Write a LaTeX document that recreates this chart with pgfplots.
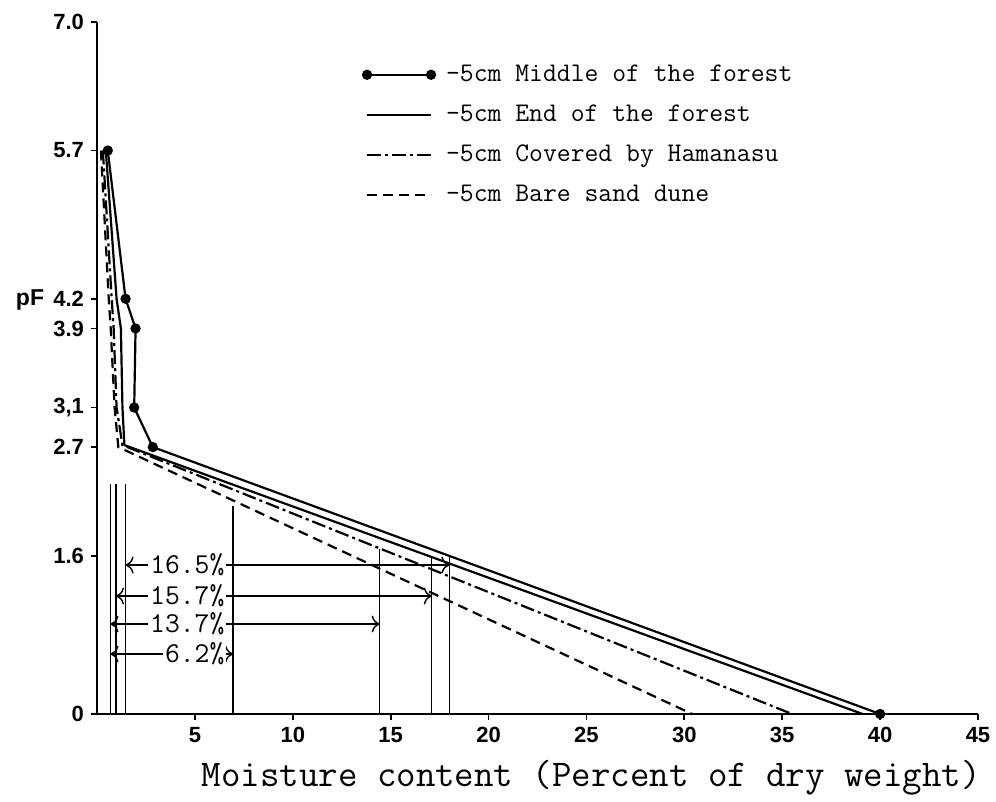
\documentclass[border=0pt]{standalone}
\usepackage{fontspec}
\setsansfont{Liberation Sans}
\usepackage{pgfplots}
\pgfplotsset{compat=1.18}
\usetikzlibrary{arrows.meta}

\begin{document}
\begin{tikzpicture}
\begin{axis}[
  scale only axis, width=440.5pt, height=346pt,
  xmin=0, xmax=45, ymin=0, ymax=7,
  axis x line*=bottom, axis y line*=left,
  axis line style={line width=1.4pt},
  tick align=outside, major tick length=3pt,
  tick style={black, line width=0.9pt},
  xtick={5,10,...,45}, xticklabels={5,10,15,20,25,30,35,40,45},
  ytick={0,1.6,2.7,3.1,3.9,4.2,5.7,7.0},
  yticklabels={0,1.6,2.7,{3,1},3.9,4.2,5.7,7.0},
  ticklabel style={font=\sffamily\bfseries\fontsize{11}{13}\selectfont},
  xlabel={Moisture content (Percent of dry weight)},
  xlabel style={font=\ttfamily\fontsize{18.9}{21}\selectfont,
    at={(axis description cs:0.561,-0.0925)}, anchor=center},
  ylabel={pF},
  ylabel style={font=\sffamily\bfseries\fontsize{11.5}{13}\selectfont, rotate=-90,
    at={(axis description cs:-0.076,0.598)}, anchor=center},
  clip=false,
  legend style={at={(axis cs:13.57,6.61)}, anchor=north west, draw=none, fill=none,
    inner sep=0pt, row sep=6.2pt, column sep=3.5pt,
    font=\ttfamily\fontsize{13.45}{15}\selectfont},
  legend cell align=left,
  legend image code/.code={\draw[#1] plot coordinates {(0pt,0pt) (32pt,0pt)};},
]
% series
\addplot[line width=1.1pt, mark=*, mark size=2pt] coordinates {
  (0.55,5.7) (1.46,4.2) (1.97,3.9) (1.9,3.1) (2.85,2.7) (40,0)};
\addlegendentry{-5cm Middle of the forest}
\addplot[line width=1.1pt] coordinates {
  (0.45,5.7) (1.0,4.2) (1.22,3.9) (1.3,3.1) (1.4,2.72) (39.1,0)};
\addlegendentry{-5cm End of the forest}
\addplot[line width=1.1pt, dash pattern=on 7pt off 2pt on 1.5pt off 2pt] coordinates {
  (0.3,5.7) (0.75,4.2) (0.85,3.9) (1.0,3.1) (1.3,2.72) (35.5,0)};
\addlegendentry{-5cm Covered by Hamanasu}
\addplot[line width=1.1pt, dash pattern=on 5pt off 3pt] coordinates {
  (0.2,5.7) (0.6,4.2) (0.7,3.9) (0.9,3.1) (1.09,2.7) (30.4,0)};
\addlegendentry{-5cm Bare sand dune}

% vertical guide lines
\addplot[forget plot, line width=0.7pt] coordinates {(0.69,0) (0.69,2.33)};
\addplot[forget plot, line width=0.7pt] coordinates {(0.97,0) (0.97,2.33)};
\addplot[forget plot, line width=0.7pt] coordinates {(1.46,0) (1.46,2.33)};
\addplot[forget plot, line width=0.7pt] coordinates {(6.95,0) (6.95,2.10)};
\addplot[forget plot, line width=0.7pt] coordinates {(14.44,0) (14.44,1.67)};
\addplot[forget plot, line width=0.7pt] coordinates {(17.1,0) (17.1,1.58)};
\addplot[forget plot, line width=0.7pt] coordinates {(18.0,0) (18.0,1.60)};

% difference arrows
\addplot[forget plot, line width=0.7pt, {To[length=4pt]}-{To[length=4pt]}] coordinates {(1.46,1.507) (18.0,1.507)};
\addplot[forget plot, line width=0.7pt, {To[length=4pt]}-{To[length=4pt]}] coordinates {(0.97,1.193) (17.1,1.193)};
\addplot[forget plot, line width=0.7pt, {To[length=4pt]}-{To[length=4pt]}] coordinates {(0.69,0.91) (14.44,0.91)};
\addplot[forget plot, line width=0.7pt, {To[length=4pt]}-{To[length=4pt]}] coordinates {(0.69,0.607) (6.95,0.607)};
\node[fill=white, anchor=east, inner sep=1pt, font=\ttfamily\fontsize{14.4}{16}\selectfont] at (axis cs:6.63,1.507) {16.5\%};
\node[fill=white, anchor=east, inner sep=1pt, font=\ttfamily\fontsize{14.4}{16}\selectfont] at (axis cs:6.63,1.193) {15.7\%};
\node[fill=white, anchor=east, inner sep=1pt, font=\ttfamily\fontsize{14.4}{16}\selectfont] at (axis cs:6.63,0.91) {13.7\%};
\node[fill=white, anchor=east, inner sep=1pt, font=\ttfamily\fontsize{14.4}{16}\selectfont] at (axis cs:6.63,0.607) {6.2\%};
\end{axis}
\pgfresetboundingbox
\useasboundingbox (-48.5pt,-44pt) rectangle (449.5pt,357pt);
\end{tikzpicture}
\end{document}
